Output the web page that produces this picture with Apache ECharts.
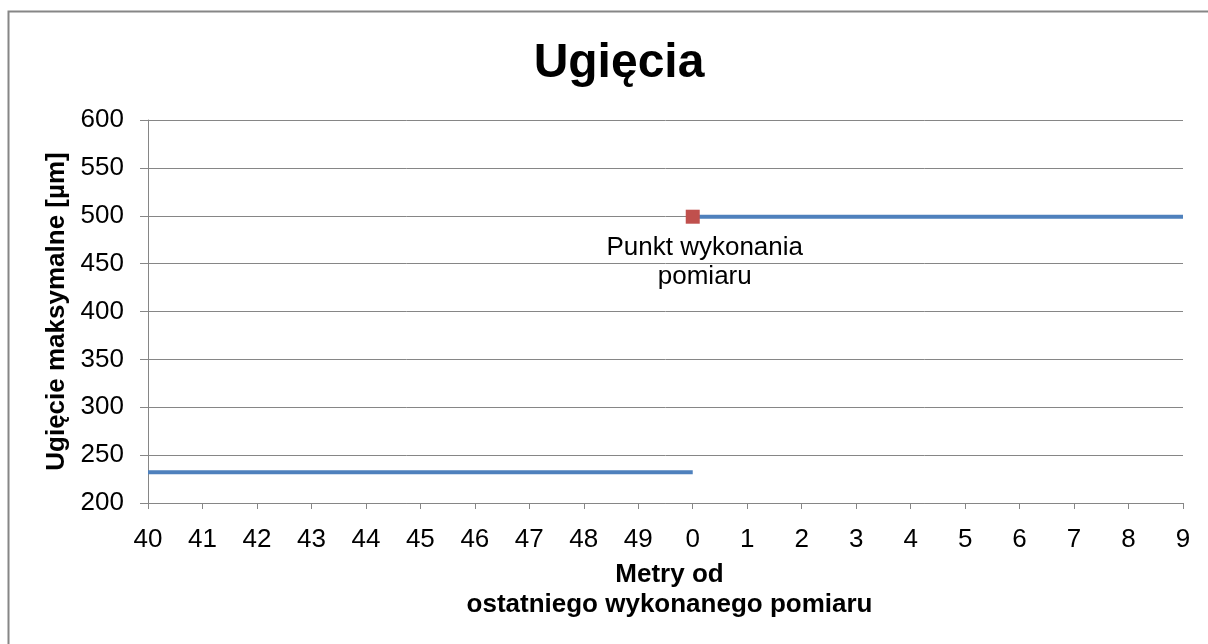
<!DOCTYPE html>
<html><head><meta charset="utf-8">
<script src="https://cdn.jsdelivr.net/npm/echarts@6/dist/echarts.min.js"></script>
<style>html,body{margin:0;padding:0;background:#fff}#c{width:1208px;height:644px}</style>
</head><body><div id="c"></div>
<script>
const categories = ['40','41','42','43','44','45','46','47','48','49','0','1','2','3','4','5','6','7','8','9'];
const beforeValues = [232,232,232,232,232,232,232,232,232,232,232,null,null,null,null,null,null,null,null,null];
const afterValues = [null,null,null,null,null,null,null,null,null,null,499,499,499,499,499,499,499,499,499,499];
const pointValues = [[10,499]];
const pointLabel = 'Punkt wykonania\npomiaru';
const yTicks = {min:200,max:600,interval:50};

const chart = echarts.init(document.getElementById('c'));
const F = 'Liberation Sans, Arial, sans-serif';
chart.setOption({
  animation:false,
  title:{text:'Ugięcia',left:614,textAlign:'center',top:35,textStyle:{fontFamily:F,fontSize:48,fontWeight:'bold',color:'#000'}},
  graphic:[{type:'rect',shape:{x:8.5,y:11.5,width:1220,height:660},style:{fill:'none',stroke:'#868686',lineWidth:2},silent:true,z:-1}],
  grid:{left:148,right:25,top:120,bottom:141},
  xAxis:{type:'category',data:categories,boundaryGap:false,
    axisLine:{lineStyle:{color:'#868686',width:1}},
    axisTick:{show:true,alignWithLabel:true,length:6,lineStyle:{color:'#868686'}},
    axisLabel:{color:'#000',fontFamily:F,fontSize:26,margin:24,interval:0},
    name:'Metry od\nostatniego wykonanego pomiaru',nameLocation:'middle',nameGap:57,
    nameTextStyle:{fontFamily:F,fontSize:26,fontWeight:'bold',color:'#000',lineHeight:30,padding:[0,0,0,8]},
    splitLine:{show:false}},
  yAxis:{type:'value',min:yTicks.min,max:yTicks.max,interval:yTicks.interval,
    axisLine:{show:true,lineStyle:{color:'#868686'}},
    axisTick:{show:true,length:8,lineStyle:{color:'#868686'}},
    axisLabel:{color:'#000',fontFamily:F,fontSize:26,margin:24},
    splitLine:{lineStyle:{color:'#868686',width:1}},
    name:'Ugięcie maksymalne [µm]',nameLocation:'middle',nameGap:72,nameRotate:90,
    nameTextStyle:{fontFamily:F,fontSize:26,fontWeight:'bold',color:'#000'}},
  series:[
    {type:'line',data:beforeValues,showSymbol:false,symbol:'none',lineStyle:{color:'#4F81BD',width:4},connectNulls:false},
    {type:'line',data:afterValues,showSymbol:false,symbol:'none',lineStyle:{color:'#4F81BD',width:4},connectNulls:false},
    {type:'scatter',data:pointValues,symbol:'rect',symbolSize:14,itemStyle:{color:'#C0504D',opacity:1},z:5,
      label:{show:true,position:'bottom',distance:10,offset:[12,0],formatter:pointLabel,fontFamily:F,fontSize:26,color:'#000',lineHeight:29,align:'center'}}
  ]
});
</script></body></html>
